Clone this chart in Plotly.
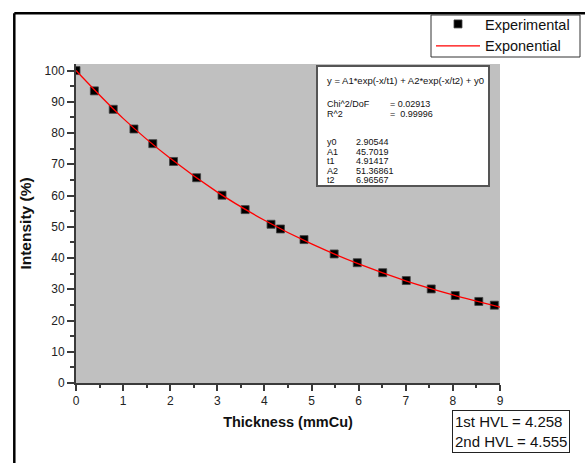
import plotly.graph_objects as go

thickness = [0, 0.39, 0.79, 1.23, 1.63, 2.07, 2.56, 3.10, 3.59, 4.14, 4.34,
             4.84, 5.48, 5.97, 6.51, 7.01, 7.54, 8.05, 8.55, 8.88]
intensity = [100.0, 93.5, 87.6, 81.3, 76.6, 70.9, 65.7, 60.1, 55.5, 50.8, 49.3,
             45.9, 41.3, 38.5, 35.3, 32.8, 30.1, 28.0, 26.1, 24.9]

# Exponential fit curve
fit_x = [0, 1, 2, 3, 4, 5, 6, 7, 8, 9]
fit_y = [100.0, 84.7, 71.9, 61.1, 52.1, 44.5, 38.1, 32.7, 28.2, 24.3]

fit_labels = ["y0", "A1", "t1", "A2", "t2"]
fit_values = ["2.90544", "45.7019", "4.91417", "51.36861", "6.96567"]

FONT = "Arial, Liberation Sans, sans-serif"
W, H = 585, 463
L, R, T, B = 76, 85, 64, 80
PW, PH = W - L - R, H - T - B


def px(x):
    return (x - L) / PW


def py(y):
    return (H - B - y) / PH


fig = go.Figure()
fig.add_trace(go.Scatter(
    x=thickness, y=intensity, mode="markers", name="Experimental",
    marker=dict(symbol="square", size=8, color="black",
                line=dict(width=0.8, color="#444")),
))
fig.add_trace(go.Scatter(
    x=fit_x, y=fit_y, mode="lines", name="Exponential",
    line=dict(color="red", width=1.3, shape="spline"),
))

axis_common = dict(
    showgrid=False, zeroline=False, showline=True, linecolor="#3a3a3a",
    linewidth=2, ticks="outside", tickcolor="#3a3a3a", tickwidth=1.5,
    tickfont=dict(family=FONT, size=12, color="#222"),
    mirror=False,
)

fig.update_xaxes(
    range=[0, 9], dtick=1, tick0=0, ticklen=6,
    minor=dict(dtick=0.5, ticklen=3, ticks="outside", tickcolor="#3a3a3a", tickwidth=1.5),
    title=dict(text="<b>Thickness (mmCu)</b>", font=dict(family=FONT, size=14.5, color="#111"),
               standoff=9),
    **axis_common,
)
fig.update_yaxes(
    range=[0, 102.1], dtick=10, tick0=0, ticklen=7,
    minor=dict(dtick=5, ticklen=4, ticks="outside", tickcolor="#3a3a3a", tickwidth=1.5),
    title=dict(text="<b>Intensity (%)</b>", font=dict(family=FONT, size=15.5, color="#111"),
               standoff=9),
    **axis_common,
)

shapes = [
    # outer black frame (left and top edges)
    dict(type="line", xref="paper", yref="paper", x0=px(14.3), x1=px(600),
         y0=py(13.3), y1=py(13.3), line=dict(color="black", width=2.5)),
    dict(type="line", xref="paper", yref="paper", x0=px(14.3), x1=px(14.3),
         y0=py(13.3), y1=py(480), line=dict(color="black", width=2.5)),
    # legend frame
    dict(type="rect", xref="paper", yref="paper", x0=px(431), x1=px(580),
         y0=py(57), y1=py(15), fillcolor="white",
         line=dict(color="#333", width=1), layer="above"),
    # fit results box
    dict(type="rect", xref="paper", yref="paper", x0=px(317), x1=px(489),
         y0=py(186), y1=py(66), fillcolor="white",
         line=dict(color="#555", width=2), layer="above"),
]

ann = []


def txt(x, y, s, size=9):
    ann.append(dict(xref="paper", yref="paper", x=px(x), y=py(y), text=s,
                    showarrow=False, xanchor="left", yanchor="middle",
                    font=dict(family=FONT, size=size, color="#111"), borderpad=0))


txt(326, 81, "y = A1*exp(-x/t1) + A2*exp(-x/t2) + y0", 9.5)
txt(326, 104, "Chi^2/DoF")
txt(389, 104, "= 0.02913")
txt(326, 113.6, "R^2")
txt(389, 113.6, "=  0.99996")
for i, (lab, val) in enumerate(zip(fit_labels, fit_values)):
    txt(326, 142 + 9.6 * i, lab)
    txt(355, 142 + 9.6 * i, val)

ann.append(dict(
    xref="paper", yref="paper", x=px(452), y=py(410), xanchor="left", yanchor="top",
    text="1st HVL = 4.258<br>2nd HVL = 4.555", align="left", showarrow=False,
    font=dict(family=FONT, size=15, color="#111"),
    bordercolor="#222", borderwidth=1, borderpad=2, bgcolor="white",
))

fig.update_layout(
    width=W, height=H, margin=dict(l=L, r=R, t=T, b=B, autoexpand=False),
    paper_bgcolor="white", plot_bgcolor="#c0c0c0",
    font=dict(family=FONT, color="#111"),
    shapes=shapes, annotations=ann,
    showlegend=True,
    legend=dict(x=px(431), y=py(8), xanchor="left", yanchor="top",
                bgcolor="rgba(0,0,0,0)", borderwidth=0,
                font=dict(family=FONT, size=14.5, color="#111"),
                tracegroupgap=0, itemwidth=44),
)

fig.write_html("out.html")
